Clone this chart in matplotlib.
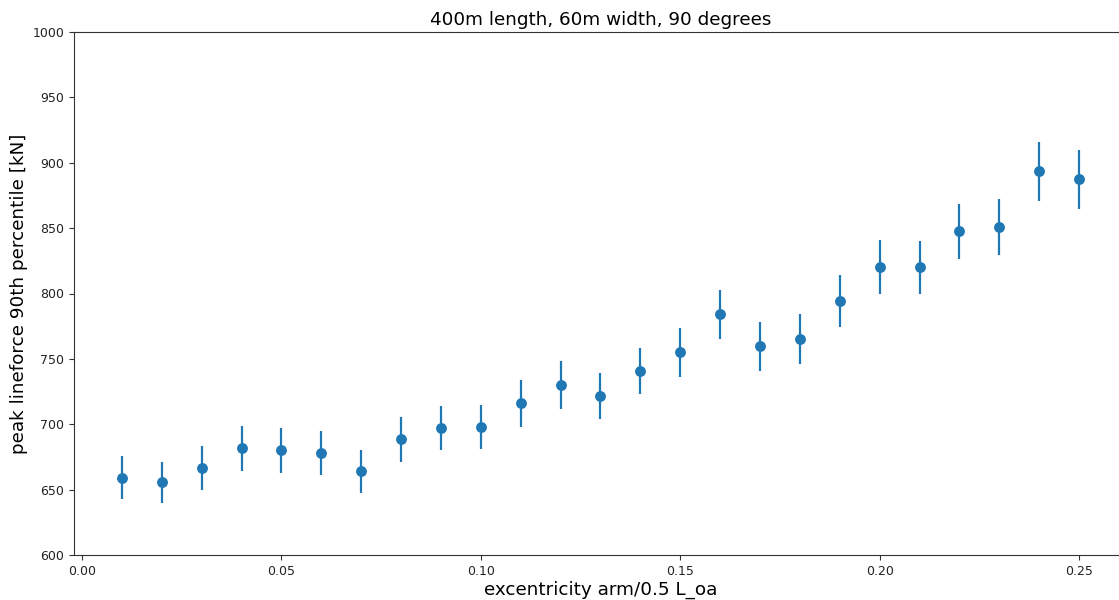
import matplotlib
matplotlib.use("Agg")
import matplotlib.pyplot as plt

# eccentricity arm as fraction of half the overall length
eccentricity = [0.01, 0.02, 0.03, 0.04, 0.05, 0.06, 0.07, 0.08, 0.09, 0.10,
                0.11, 0.12, 0.13, 0.14, 0.15, 0.16, 0.17, 0.18, 0.19, 0.20,
                0.21, 0.22, 0.23, 0.24, 0.25]
# 90th percentile of peak line force [kN]
peak_force = [659, 655.5, 666.5, 681.5, 680, 678, 664, 688.5, 697, 698,
              716, 730, 721.5, 741, 755, 784, 759.5, 765, 794, 820.5,
              820, 847.5, 851, 893.5, 887.5]
# half-width of the uncertainty band [kN]
force_err = [16.5, 16, 16.7, 17, 17, 16.5, 16.5, 17, 17, 17,
             18, 18, 17.5, 17.5, 18.5, 19, 19, 19, 20, 20.5,
             20.5, 21, 21.5, 22.5, 22.5]

fig = plt.figure(figsize=(11.19, 6.0), dpi=100)
ax = fig.add_axes([74 / 1119, 45 / 600, 1053 / 1119, 523 / 600])

ax.errorbar(eccentricity, peak_force, yerr=force_err, fmt="o",
            color="#1f77b4", markersize=6.8, elinewidth=1.6)

ax.set_ylim(600, 1000)
ax.set_xlim(-0.002, 0.262)
ax.set_title("400m length, 60m width, 90 degrees", fontsize=13.2, pad=5)
ax.set_xlabel("excentricity arm/0.5 L_oa", fontsize=13.2, labelpad=2)
ax.set_ylabel("peak lineforce 90th percentile [kN]", fontsize=13.2, labelpad=3.5)
ax.tick_params(labelsize=9, colors="#333333", labelcolor="#222222")
for s in ax.spines.values():
    s.set_color("#333333")

fig.savefig("out.png", dpi=100)
